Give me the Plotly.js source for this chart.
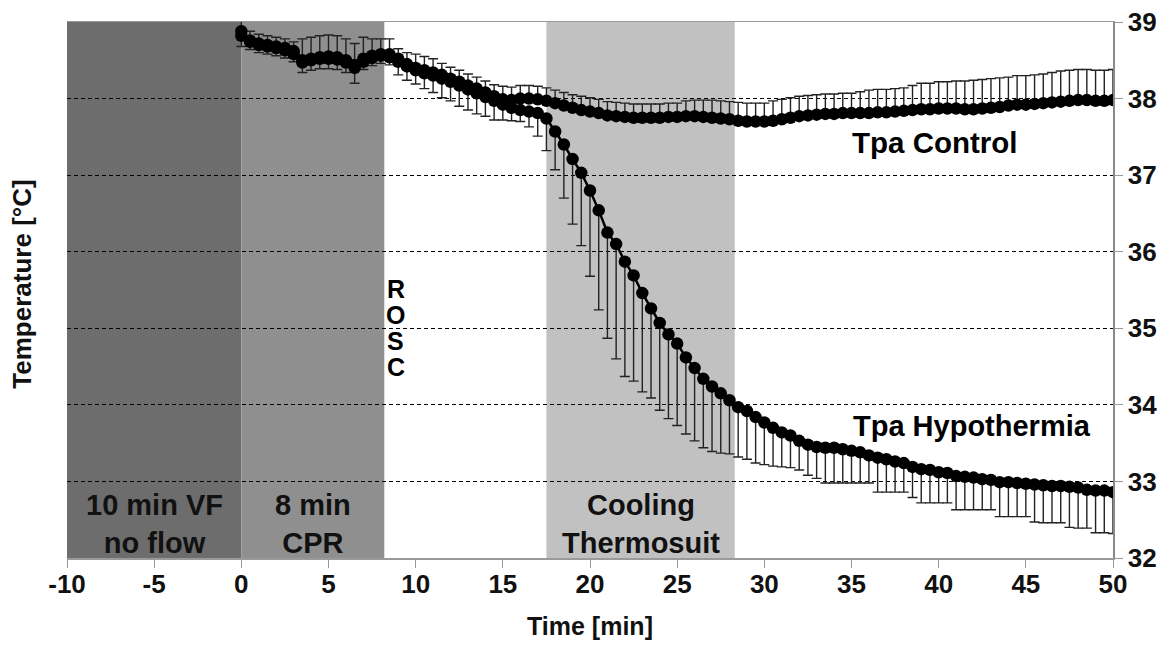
<!DOCTYPE html>
<html>
<head>
<meta charset="utf-8">
<script src="https://cdn.plot.ly/plotly-3.0.1.min.js"></script>
<style>html,body{margin:0;padding:0;background:#fff;}#chart{width:1169px;height:647px;}</style>
</head>
<body>
<div id="chart"></div>
<script>
// time in minutes after start of CPR
const timeMin = [0,0.5,1,1.5,2,2.5,3,3.5,4,4.5,5,5.5,6,6.5,7,7.5,8,8.5,9,9.5,10,10.5,11,11.5,12,12.5,13,13.5,14,14.5,15,15.5,16,16.5,17,17.5,18,18.5,19,19.5,20,20.5,21,21.5,22,22.5,23,23.5,24,24.5,25,25.5,26,26.5,27,27.5,28,28.5,29,29.5,30,30.5,31,31.5,32,32.5,33,33.5,34,34.5,35,35.5,36,36.5,37,37.5,38,38.5,39,39.5,40,40.5,41,41.5,42,42.5,43,43.5,44,44.5,45,45.5,46,46.5,47,47.5,48,48.5,49,49.5,50];

// Tpa Control (mean) and upper SD
const tpaControl = [38.88,38.76,38.72,38.70,38.68,38.66,38.62,38.50,38.52,38.54,38.55,38.54,38.50,38.44,38.52,38.56,38.58,38.58,38.52,38.45,38.40,38.37,38.34,38.31,38.26,38.22,38.17,38.13,38.08,38.03,37.99,37.98,38.00,38.00,37.99,37.97,37.94,37.91,37.88,37.85,37.83,37.81,37.78,37.77,37.76,37.75,37.75,37.75,37.75,37.76,37.76,37.77,37.77,37.76,37.75,37.74,37.73,37.71,37.70,37.70,37.70,37.71,37.73,37.75,37.77,37.78,37.79,37.80,37.80,37.81,37.81,37.81,37.81,37.82,37.82,37.83,37.84,37.85,37.86,37.86,37.87,37.87,37.87,37.86,37.86,37.87,37.88,37.89,37.91,37.92,37.92,37.93,37.94,37.95,37.96,37.97,37.98,37.98,37.97,37.97,37.98];
const tpaControlSD = [0.17,0.12,0.12,0.12,0.12,0.12,0.12,0.28,0.28,0.28,0.28,0.28,0.28,0.28,0.28,0.22,0.20,0.20,0.13,0.15,0.18,0.18,0.18,0.15,0.15,0.15,0.15,0.15,0.15,0.15,0.17,0.17,0.17,0.17,0.17,0.17,0.17,0.17,0.17,0.18,0.18,0.18,0.18,0.18,0.18,0.18,0.18,0.18,0.18,0.18,0.18,0.20,0.21,0.22,0.23,0.23,0.23,0.24,0.24,0.24,0.24,0.26,0.26,0.26,0.26,0.26,0.26,0.26,0.26,0.26,0.26,0.28,0.30,0.30,0.30,0.30,0.30,0.32,0.34,0.34,0.35,0.35,0.36,0.37,0.38,0.38,0.38,0.38,0.37,0.38,0.38,0.38,0.38,0.39,0.40,0.40,0.40,0.40,0.40,0.40,0.40];

// Tpa Hypothermia (mean) and lower SD
const tpaHypo = [38.82,38.74,38.70,38.68,38.66,38.63,38.58,38.47,38.50,38.52,38.52,38.51,38.47,38.40,38.48,38.53,38.56,38.54,38.48,38.42,38.37,38.33,38.30,38.26,38.22,38.17,38.12,38.07,38.02,37.97,37.92,37.88,37.85,37.83,37.81,37.74,37.57,37.40,37.21,37.03,36.80,36.54,36.25,36.10,35.87,35.69,35.46,35.26,35.07,34.92,34.80,34.62,34.48,34.34,34.24,34.15,34.06,33.97,33.92,33.84,33.77,33.70,33.64,33.60,33.53,33.48,33.45,33.44,33.44,33.42,33.40,33.38,33.34,33.31,33.29,33.26,33.24,33.19,33.16,33.15,33.12,33.11,33.07,33.06,33.05,33.03,33.02,32.99,32.99,32.98,32.97,32.96,32.95,32.94,32.94,32.93,32.92,32.89,32.88,32.88,32.86];
const tpaHypoSD = [0.14,0.10,0.10,0.10,0.10,0.10,0.10,0.13,0.13,0.13,0.13,0.13,0.13,0.20,0.10,0.10,0.10,0.10,0.17,0.18,0.18,0.20,0.22,0.25,0.25,0.27,0.27,0.27,0.25,0.25,0.20,0.17,0.15,0.20,0.30,0.42,0.50,0.70,0.85,0.95,1.12,1.30,1.38,1.50,1.50,1.38,1.29,1.17,1.14,1.10,1.07,1.00,0.95,0.90,0.85,0.78,0.70,0.65,0.63,0.60,0.55,0.50,0.45,0.42,0.38,0.40,0.41,0.46,0.46,0.44,0.42,0.40,0.36,0.45,0.43,0.40,0.38,0.40,0.44,0.43,0.40,0.39,0.44,0.43,0.42,0.40,0.39,0.45,0.45,0.44,0.43,0.49,0.49,0.48,0.48,0.53,0.53,0.50,0.55,0.55,0.54];

// shaded phases
const phaseStart = [-10, 0, 17.5];
const phaseEnd = [0, 8.2, 28.3];
const phaseColor = ['#6d6d6d', '#8f8f8f', '#c1c1c1'];
const phaseLabel = ['10 min VF<br>no flow', '8 min<br>CPR', 'Cooling<br>Thermosuit'];
const phaseLabelX = [-5, 4.1, 22.9];

const xTicks = [-10,-5,0,5,10,15,20,25,30,35,40,45,50];
const xTickText = ['-10','-5','0','5','10','15','20','25','30','35','40','45','50'];
const yTicks = [32,33,34,35,36,37,38,39];

const FONT = 'Liberation Sans, Arial, sans-serif';
const zeros = timeMin.map(() => 0);

const common = {
  type: 'scatter', mode: 'lines+markers', x: timeMin,
  line: {color: '#000', width: 2.5},
  marker: {color: '#000', size: 12.5},
  hoverinfo: 'skip', showlegend: false
};

const traces = [
  Object.assign({}, common, {
    name: 'Tpa Hypothermia', y: tpaHypo,
    error_y: {type: 'data', symmetric: false, array: zeros, arrayminus: tpaHypoSD, color: '#222', thickness: 1.4, width: 5}
  }),
  Object.assign({}, common, {
    name: 'Tpa Control', y: tpaControl,
    error_y: {type: 'data', symmetric: false, array: tpaControlSD, arrayminus: zeros, color: '#222', thickness: 1.4, width: 5}
  })
];

const shapes = phaseStart.map((s, i) => ({
  type: 'rect', xref: 'x', yref: 'y', x0: s, x1: phaseEnd[i], y0: 32, y1: 39,
  fillcolor: phaseColor[i], line: {width: 0}, layer: 'below'
}));

const annotations = phaseLabel.map((t, i) => ({
  x: phaseLabelX[i], y: 32.44, xref: 'x', yref: 'y', text: t, showarrow: false,
  font: {family: FONT, size: 29, color: '#111', weight: 'bold'}, align: 'center'
}));

const rosc = ['R', 'O', 'S', 'C'];
rosc.forEach((ch, i) => annotations.push({
  x: 8.85, y: 35.0, xref: 'x', yref: 'y', text: ch, showarrow: false,
  yshift: (1.5 - i) * 26, height: 24, valign: 'middle',
  font: {family: FONT, size: 25, color: '#000', weight: 'bold'}
}));

annotations.push({x: 39.8, y: 37.43, xref: 'x', yref: 'y', text: 'Tpa Control', showarrow: false,
  font: {family: FONT, size: 29.5, color: '#000', weight: 'bold'}});
annotations.push({x: 41.9, y: 33.72, xref: 'x', yref: 'y', text: 'Tpa Hypothermia', showarrow: false,
  font: {family: FONT, size: 29, color: '#000', weight: 'bold'}});
annotations.push({x: -0.043, y: 0.51, xref: 'paper', yref: 'paper', xanchor: 'center', yanchor: 'middle',
  text: 'Temperature [°C]', showarrow: false,
  textangle: -90, font: {family: FONT, size: 26, color: '#111', weight: 'bold'}});

const layout = {
  width: 1169, height: 647,
  margin: {l: 67, r: 56, t: 22, b: 89},
  paper_bgcolor: '#fff', plot_bgcolor: '#fff',
  showlegend: false,
  xaxis: {
    range: [-10, 50], tickvals: xTicks, ticktext: xTickText,
    showgrid: false, zeroline: false,
    showline: true, linecolor: '#9a9a9a', linewidth: 1.5, mirror: true,
    ticks: 'outside', ticklen: 8, tickcolor: '#9a9a9a', tickwidth: 1,
    ticklabelstandoff: -6,
    tickfont: {family: FONT, size: 26, color: '#111', weight: 'bold'},
    title: {text: 'Time [min]', font: {family: FONT, size: 25, color: '#111', weight: 'bold'}, standoff: 20}
  },
  yaxis: {
    range: [32, 39], side: 'right', tickvals: yTicks, ticktext: yTicks.map(String),
    showgrid: true, gridcolor: '#000', gridwidth: 1, griddash: '4px,3px',
    zeroline: false, showline: true, linecolor: '#8a8a8a', linewidth: 1.5,
    ticks: 'outside', ticklen: 8, tickcolor: '#9a9a9a', tickwidth: 1,
    tickfont: {family: FONT, size: 26, color: '#111', weight: 'bold'}
  },
  shapes: shapes,
  annotations: annotations
};

Plotly.newPlot('chart', traces, layout, {staticPlot: true, displayModeBar: false});
</script>
</body>
</html>
